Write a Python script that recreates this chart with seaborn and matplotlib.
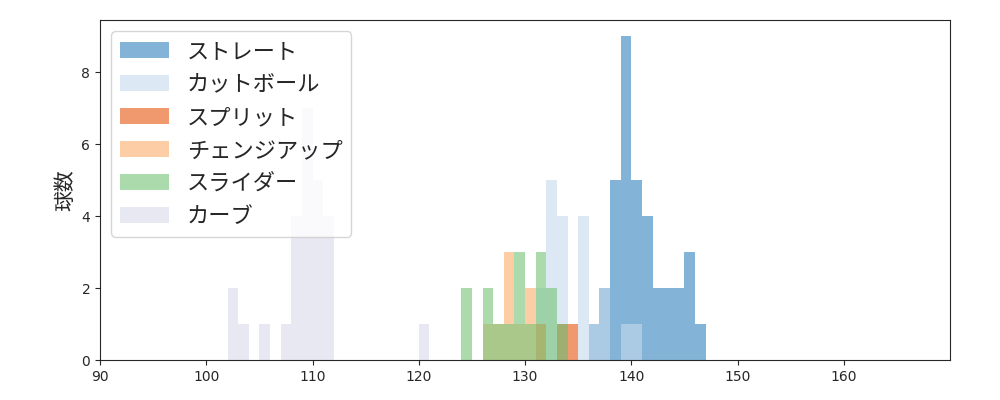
import numpy as np
import pandas as pd
import matplotlib
matplotlib.use('Agg')
import matplotlib.pyplot as plt
import seaborn as sns

sns.set_style('ticks')
plt.rcParams['font.family'] = ['Noto Sans CJK JP', 'DejaVu Sans']

# pitch speed (km/h) -> count
pitch_names = ['ストレート', 'カットボール', 'スプリット', 'チェンジアップ', 'スライダー', 'カーブ']
straight = {136: 1, 137: 2, 138: 5, 139: 9, 140: 5, 141: 4, 142: 2, 143: 2, 144: 2, 145: 3, 146: 1}
cutter = {131: 2, 132: 5, 133: 4, 135: 4, 136: 1, 137: 2, 139: 1, 140: 1}
splitter = {131: 1, 133: 1, 134: 1}
changeup = {126: 1, 127: 1, 128: 3, 129: 1, 130: 2, 131: 1}
slider = {124: 2, 126: 2, 127: 1, 128: 1, 129: 3, 130: 1, 131: 3, 132: 2, 133: 1}
curve = {102: 2, 103: 1, 105: 1, 107: 1, 108: 4, 109: 7, 110: 5, 111: 4, 120: 1}
colors = ['#3182bd', '#c6dbef', '#e6550d', '#fdae6b', '#74c476', '#dadaeb']

rows = []
for name, d in zip(pitch_names, [straight, cutter, splitter, changeup, slider, curve]):
    for speed, n in d.items():
        rows += [{'pitch': name, 'speed': speed + 0.5}] * n
df = pd.DataFrame(rows)

fig, ax = plt.subplots(figsize=(10, 4), dpi=100)
for name, c in zip(pitch_names, colors):
    sns.histplot(df[df['pitch'] == name], x='speed', binwidth=1, binrange=(90, 170),
                 color=c, alpha=0.6, edgecolor=None, linewidth=0, label=name, ax=ax)

ax.set_xlim(90, 170)
ax.set_xticks(range(90, 170, 10))
ax.tick_params(labelsize=10)
for t in ax.get_xticklabels() + ax.get_yticklabels():
    t.set_family('DejaVu Sans')
ax.set_xlabel('')
ax.set_ylabel('球数', fontsize=15)
ax.legend(fontsize=16, loc='upper left', labelspacing=0.45, handlelength=2.2)
plt.subplots_adjust(left=0.1, right=0.95, top=0.95, bottom=0.1)
plt.savefig('out.png')
